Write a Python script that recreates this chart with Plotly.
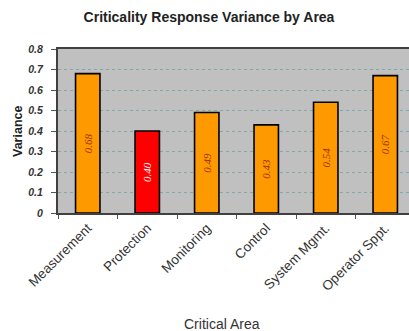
import plotly.graph_objects as go

categories = ["Measurement", "Protection", "Monitoring", "Control", "System Mgmt.", "Operator Sppt."]
variance = [0.68, 0.40, 0.49, 0.43, 0.54, 0.67]
bar_colors = ["#FF9900", "#FF0000", "#FF9900", "#FF9900", "#FF9900", "#FF9900"]
label_colors = ["#993300", "#FFFFFF", "#993300", "#993300", "#993300", "#993300"]
y_ticks = [0, 0.1, 0.2, 0.3, 0.4, 0.5, 0.6, 0.7, 0.8]

fig = go.Figure(go.Bar(
    x=categories,
    y=variance,
    width=0.41,
    marker=dict(color=bar_colors, line=dict(color="#000000", width=1.6)),
    text=[f"{v:.2f}" for v in variance],
    textposition="inside",
    insidetextanchor="middle",
    textangle=-90,
    insidetextfont=dict(family="Liberation Serif", size=11, style="italic", color=label_colors),
    hoverinfo="skip",
))

fig.update_layout(
    width=409, height=331,
    margin=dict(l=58, r=0, t=49, b=118),
    paper_bgcolor="white",
    plot_bgcolor="#C0C0C0",
    showlegend=False,
    title=dict(
        text="<b>Criticality Response Variance by Area</b>",
        x=209 / 409, xref="container", xanchor="center",
        y=1 - 17 / 331, yref="container", yanchor="middle",
        font=dict(family="Liberation Sans", size=14, color="#222222"),
    ),
    xaxis=dict(
        range=[-0.5, -0.5 + 351 / 59.5],
        tickangle=-45,
        tickfont=dict(family="Liberation Sans", size=13.5, color="#333333"),
        ticks="outside", tickson="boundaries", ticklen=4, tickcolor="#555555", tickwidth=1,
        showline=True, linecolor="#404040", linewidth=2, mirror=True,
        showgrid=False, zeroline=False,
    ),
    yaxis=dict(
        range=[0, 0.8],
        tickvals=y_ticks,
        ticktext=["0" if t == 0 else f"{t:.1f}" for t in y_ticks],
        tickfont=dict(family="Liberation Sans", size=10.5, color="#333333", weight="bold", style="italic"),
        ticks="outside", ticklen=5, tickcolor="#555555", tickwidth=1,
        ticklabelstandoff=6,
        showline=True, linecolor="#404040", linewidth=2,
        showgrid=True, gridcolor="#7FAAAA", griddash="dot", gridwidth=1,
        zeroline=False,
    ),
    annotations=[
        dict(text="Critical Area", xref="paper", yref="paper",
             x=(222 - 58) / 351, y=(213 - 324) / 164,
             xanchor="center", yanchor="middle", showarrow=False,
             font=dict(family="Liberation Sans", size=14, color="#333333")),
        dict(text="<b>Variance</b>", xref="paper", yref="paper",
             x=(18 - 58) / 351, y=(213 - 132) / 164, textangle=-90,
             xanchor="center", yanchor="middle", showarrow=False,
             font=dict(family="Liberation Sans", size=12.5, color="#222222")),
    ],
)

fig.write_html(
    "out.html",
    config={"displayModeBar": False, "staticPlot": True},
    post_script="document.body.style.margin='0';document.body.style.overflow='hidden';",
)
